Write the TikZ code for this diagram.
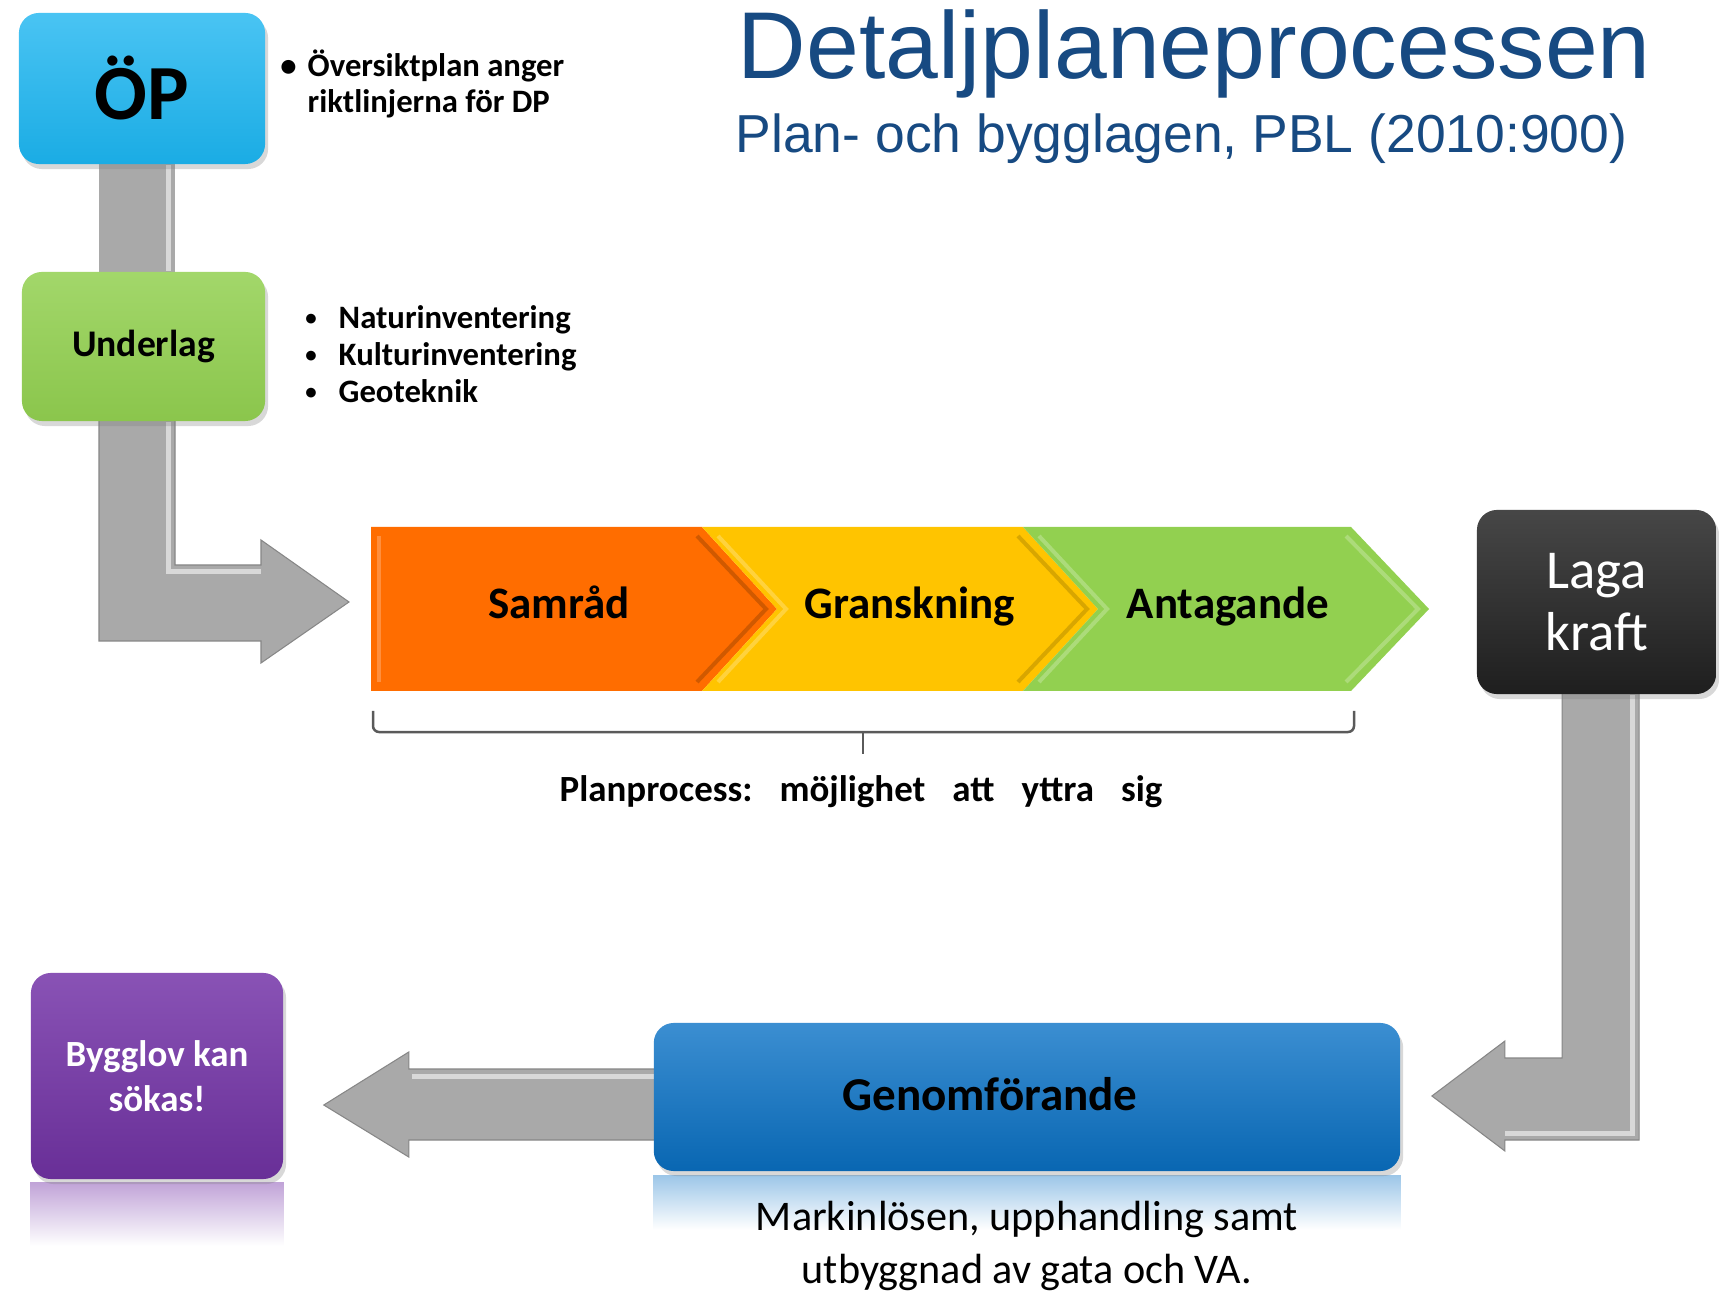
\documentclass[tikz,border=0pt]{standalone}
\usepackage{fontspec}
\setmainfont{Carlito}
\newfontfamily\arialf{Liberation Sans}
\usetikzlibrary{calc,shadows}
\definecolor{opc}{HTML}{1CB5F0}
\definecolor{ulg}{HTML}{92D050}
\definecolor{orng}{HTML}{FF6D00}
\definecolor{yel}{HTML}{FFC400}
\definecolor{grn}{HTML}{92D050}
\definecolor{lagac}{HTML}{262626}
\definecolor{genc}{HTML}{0A72C6}
\definecolor{bygc}{HTML}{7434A8}
\definecolor{titc}{HTML}{174A82}
\definecolor{arrg}{HTML}{A9A9A9}
\definecolor{brk}{HTML}{5A5A5A}
\pgfdeclarelayer{back}
\pgfdeclarelayer{bg}
\pgfsetlayers{back,bg,main}
\newcommand\smallbul{{\fontsize{6.5}{7}\selectfont\raisebox{0.03cm}{\textbullet}}}
\begin{document}
\begin{tikzpicture}[x=0.01cm,y=-0.01cm,
  box/.style={rounded corners=0.2cm, inner sep=0pt, align=center,
    drop shadow={opacity=0.3,shadow xshift=0.03cm,shadow yshift=-0.05cm}},
  blockarrow/.style={fill=arrg, draw=arrg!80!black, line width=0.3pt},
  hilite/.style={draw=white, opacity=0.55, line width=0.05cm},
  lbl/.style={font=\bfseries\fontsize{12.8}{15}\selectfont, text=black},
  bevel/.style={line width=0.04cm, opacity=0.6},
]
\begin{pgfonlayer}{back}
\fill[white] (0,0) rectangle (1719,1295);
\end{pgfonlayer}
\useasboundingbox (0,0) rectangle (1719,1295);

% title
\node[anchor=base west, inner sep=0pt, text=titc, font=\arialf\fontsize{27}{30}\selectfont] (title) at (737,79) {Detaljplaneprocessen};
\node[anchor=base west, inner sep=0pt, text=titc, font=\arialf\fontsize{15.2}{17}\selectfont] (subtitle) at (735,153) {Plan- och bygglagen, PBL (2010:900)};

% boxes
\node[box, minimum width=2.46cm, minimum height=1.51cm, top color=opc!80!white, bottom color=opc!95!black,
  font=\bfseries\fontsize{22.2}{24}\selectfont] (op) at (142,88.5) {ÖP};
\node[box, minimum width=2.43cm, minimum height=1.49cm, top color=ulg!85!white, bottom color=ulg!95!black,
  font=\bfseries\fontsize{10.7}{12}\selectfont] (ul) at (143.5,346.5) {Underlag};
\node[box, minimum width=2.39cm, minimum height=1.84cm, top color=lagac!85!white, bottom color=lagac!80!black,
  text=white, font=\fontsize{15.6}{17.6}\selectfont] (laga) at (1596.5,602) {Laga\\kraft};
\node[box, minimum width=7.46cm, minimum height=1.48cm, top color=genc!80!white, bottom color=genc!90!black] (gen) at (1027,1097) {};
\node[lbl, font=\bfseries\fontsize{13.4}{15}\selectfont] (gentext) at (990,1094) {Genomförande};
\node[box, minimum width=2.52cm, minimum height=2.06cm, top color=bygc!85!white, bottom color=bygc!90!black,
  text=white, font=\bfseries\fontsize{10.5}{12.8}\selectfont] (byg) at (157,1076) {Bygglov kan\\sökas!};

% reflections
\begin{pgfonlayer}{bg}
\shade[top color=genc!40!white, bottom color=white] ($(gen.south west)+(0,4)$) rectangle ($(gen.south east)+(0,58)$);
\shade[top color=bygc!45!white, bottom color=white] ($(byg.south west)+(0,3)$) rectangle ($(byg.south east)+(0,66)$);
\end{pgfonlayer}

% notes
\node[anchor=west, align=left, inner sep=0pt, font=\bfseries\fontsize{9.3}{10.2}\selectfont] (opnote) at (307,84)
  {\llap{\textbullet\hspace{0.11cm}}Översiktplan anger\\riktlinjerna för DP};
\node[anchor=west, align=left, inner sep=0pt, font=\bfseries\fontsize{9.3}{10.5}\selectfont] (ulnote) at (338,354)
  {\llap{\smallbul\hspace{0.22cm}}Naturinventering\\\llap{\smallbul\hspace{0.22cm}}Kulturinventering\\\llap{\smallbul\hspace{0.22cm}}Geoteknik};

% chevrons
\coordinate (cL) at (371,609);
\fill[orng] (371,527) -- (702,527) -- (777,609) -- (702,691) -- (371,691) -- cycle;
\fill[yel] (702,527) -- (1023,527) -- (1098,609) -- (1023,691) -- (702,691) -- (777,609) -- cycle;
\fill[grn] (1023,527) -- (1351,527) -- (1429,609) -- (1351,691) -- (1023,691) -- (1098,609) -- cycle;
\draw[bevel, draw=orng!60!white] (379,536) -- (379,682);
\draw[bevel, draw=orng!70!black] (697,536) -- (766,609) -- (697,682);
\draw[bevel, draw=yel!60!white] (718,536) -- (786,609) -- (718,682);
\draw[bevel, draw=yel!75!black] (1018,536) -- (1087,609) -- (1018,682);
\draw[bevel, draw=grn!60!white] (1039,536) -- (1107,609) -- (1039,682);
\draw[bevel, draw=grn!60!white] (1346,536) -- (1418,609) -- (1346,682);
\node[lbl, anchor=base] (samrad) at (559,619) {Samråd};
\node[lbl, anchor=base] (gransk) at (910,619) {Granskning};
\node[lbl, anchor=base] (antag) at (1228,619) {Antagande};

% bracket
\draw[brk, line width=0.025cm, rounded corners=0.06cm] (373,711) -- (373,732) -- (1354,732) -- (1354,711);
\draw[brk, line width=0.025cm] (863,732) -- (863,754);
\node[font=\bfseries\fontsize{10.5}{12}\selectfont] (pplbl) at (861,792)
  {Planprocess:\hspace{0.27cm}möjlighet\hspace{0.27cm}att\hspace{0.27cm}yttra\hspace{0.27cm}sig};

% description
\node[align=center, font=\fontsize{12}{15.1}\selectfont] (gendesc) at (1027,1246) {Markinlösen, upphandling samt\\utbyggnad av gata och VA.};

% block arrows
\coordinate (tipA) at ($(cL)+(-22,-7)$);
\coordinate (tipB) at ($(gen.east)+(31,-1)$);
\coordinate (tipC) at ($(byg.east)+(40,29)$);
\begin{pgfonlayer}{bg}
\fill[arrg] ($(op.south)+(-43,-6)$) rectangle ($(ul.north)+(31.5,6)$);
\draw[hilite] ($(op.south)+(26,0)$) -- ($(ul.north)+(24.5,0)$);
\draw[blockarrow] ($(ul.south)+(-44.5,-6)$) -- ($(ul.south)+(31.5,-6)$) |- ($(tipA)+(-88,-37)$)
  -- ($(tipA)+(-88,-62)$) -- (tipA) -- ($(tipA)+(-88,61)$) -- ($(tipA)+(-88,39)$)
  -| ($(ul.south)+(-44.5,-6)$) -- cycle;
\draw[hilite] ($(ul.south)+(24.5,0)$) |- ($(tipA)+(-88,-30)$);
\draw[blockarrow] ($(laga.south)+(-34.5,-6)$) -- ($(laga.south)+(42.5,-6)$) |- ($(tipB)+(73,44)$)
  -- ($(tipB)+(73,55)$) -- (tipB) -- ($(tipB)+(73,-55)$) -- ($(tipB)+(73,-38)$)
  -| ($(laga.south)+(-34.5,-6)$) -- cycle;
\draw[hilite] ($(laga.south)+(35.5,0)$) |- ($(tipB)+(73,37)$);
\draw[blockarrow] ($(gen.west)+(10,-28)$) -- ($(tipC)+(85,-36)$) -- ($(tipC)+(85,-53)$) -- (tipC)
  -- ($(tipC)+(85,52)$) -- ($(tipC)+(85,35)$) -- ($(gen.west)+(10,43)$) -- cycle;
\draw[hilite] ($(tipC)+(88,-29)$) -- ($(gen.west)+(8,-21)$);
\end{pgfonlayer}
\end{tikzpicture}
\end{document}
